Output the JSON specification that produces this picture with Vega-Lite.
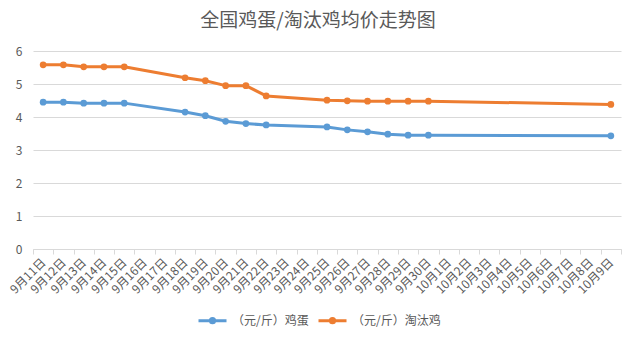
{
  "$schema": "https://vega.github.io/schema/vega-lite/v6.json",
  "width": 588,
  "height": 198,
  "autosize": "none",
  "padding": {"left": 33, "top": 51, "right": 15, "bottom": 91},
  "background": "white",
  "title": {"text": "全国鸡蛋/淘汰鸡均价走势图", "fontSize": 19, "font": "Noto Sans CJK SC", "fontWeight": "normal", "color": "#595959", "anchor": "middle", "frame": "group", "offset": 14, "dx": -9},
  "config": {"font": "Noto Sans CJK SC", "view": {"stroke": null}},
  "data": {"values": [
    {"date": "9月11日", "series": "（元/斤）鸡蛋", "price": 4.45},
    {"date": "9月12日", "series": "（元/斤）鸡蛋", "price": 4.45},
    {"date": "9月13日", "series": "（元/斤）鸡蛋", "price": 4.42},
    {"date": "9月14日", "series": "（元/斤）鸡蛋", "price": 4.42},
    {"date": "9月15日", "series": "（元/斤）鸡蛋", "price": 4.42},
    {"date": "9月18日", "series": "（元/斤）鸡蛋", "price": 4.15},
    {"date": "9月19日", "series": "（元/斤）鸡蛋", "price": 4.04},
    {"date": "9月20日", "series": "（元/斤）鸡蛋", "price": 3.87},
    {"date": "9月21日", "series": "（元/斤）鸡蛋", "price": 3.80},
    {"date": "9月22日", "series": "（元/斤）鸡蛋", "price": 3.76},
    {"date": "9月25日", "series": "（元/斤）鸡蛋", "price": 3.70},
    {"date": "9月26日", "series": "（元/斤）鸡蛋", "price": 3.61},
    {"date": "9月27日", "series": "（元/斤）鸡蛋", "price": 3.55},
    {"date": "9月28日", "series": "（元/斤）鸡蛋", "price": 3.48},
    {"date": "9月29日", "series": "（元/斤）鸡蛋", "price": 3.45},
    {"date": "9月30日", "series": "（元/斤）鸡蛋", "price": 3.45},
    {"date": "10月9日", "series": "（元/斤）鸡蛋", "price": 3.43},
    {"date": "9月11日", "series": "（元/斤）淘汰鸡", "price": 5.58},
    {"date": "9月12日", "series": "（元/斤）淘汰鸡", "price": 5.58},
    {"date": "9月13日", "series": "（元/斤）淘汰鸡", "price": 5.52},
    {"date": "9月14日", "series": "（元/斤）淘汰鸡", "price": 5.52},
    {"date": "9月15日", "series": "（元/斤）淘汰鸡", "price": 5.52},
    {"date": "9月18日", "series": "（元/斤）淘汰鸡", "price": 5.19},
    {"date": "9月19日", "series": "（元/斤）淘汰鸡", "price": 5.10},
    {"date": "9月20日", "series": "（元/斤）淘汰鸡", "price": 4.95},
    {"date": "9月21日", "series": "（元/斤）淘汰鸡", "price": 4.95},
    {"date": "9月22日", "series": "（元/斤）淘汰鸡", "price": 4.64},
    {"date": "9月25日", "series": "（元/斤）淘汰鸡", "price": 4.51},
    {"date": "9月26日", "series": "（元/斤）淘汰鸡", "price": 4.49},
    {"date": "9月27日", "series": "（元/斤）淘汰鸡", "price": 4.48},
    {"date": "9月28日", "series": "（元/斤）淘汰鸡", "price": 4.48},
    {"date": "9月29日", "series": "（元/斤）淘汰鸡", "price": 4.48},
    {"date": "9月30日", "series": "（元/斤）淘汰鸡", "price": 4.48},
    {"date": "10月9日", "series": "（元/斤）淘汰鸡", "price": 4.38}
  ]},
  "encoding": {
    "x": {
      "field": "date", "type": "ordinal", "sort": null,
      "scale": {"type": "band", "paddingInner": 0, "paddingOuter": 0,
        "domain": ["9月11日","9月12日","9月13日","9月14日","9月15日","9月16日","9月17日","9月18日","9月19日","9月20日","9月21日","9月22日","9月23日","9月24日","9月25日","9月26日","9月27日","9月28日","9月29日","9月30日","10月1日","10月2日","10月3日","10月4日","10月5日","10月6日","10月7日","10月8日","10月9日"]},
      "axis": {"title": null, "labelAngle": -45, "labelAlign": "right", "labelBaseline": "middle", "labelFontSize": 12, "labelColor": "#595959", "labelPadding": 6, "tickBand": "extent", "tickColor": "#D9D9D9", "tickSize": 5, "domainColor": "#D9D9D9", "grid": false, "labelOverlap": false}
    },
    "y": {
      "field": "price", "type": "quantitative",
      "scale": {"domain": [0, 6]},
      "axis": {"title": null, "values": [0,1,2,3,4,5,6], "domain": false, "ticks": false, "gridColor": "#D9D9D9", "labelColor": "#595959", "labelFontSize": 12, "labelPadding": 11}
    },
    "color": {
      "field": "series", "type": "nominal",
      "scale": {"domain": ["（元/斤）鸡蛋", "（元/斤）淘汰鸡"], "range": ["#5B9BD5", "#ED7D31"]},
      "legend": {"orient": "none", "legendX": 164, "legendY": 254, "direction": "horizontal", "title": null,
        "symbolType": "M-1,0H1M-0.15,0A0.15,0.15,0,1,1,0.15,0A0.15,0.15,0,1,1,-0.15,0Z",
        "symbolSize": 784, "symbolStrokeWidth": 3, "labelFontSize": 12, "labelColor": "#595959",
        "columnPadding": 3, "labelOffset": 4,
        "encode": {"symbols": {"update": {"fill": {"scale": "color", "field": "value"}, "stroke": {"scale": "color", "field": "value"}, "opacity": {"value": 1}}}}}
    }
  },
  "layer": [
    {"mark": {"type": "line", "strokeWidth": 3, "strokeCap": "round", "strokeJoin": "round"}},
    {"mark": {"type": "point", "filled": true, "size": 45, "opacity": 1}}
  ]
}
